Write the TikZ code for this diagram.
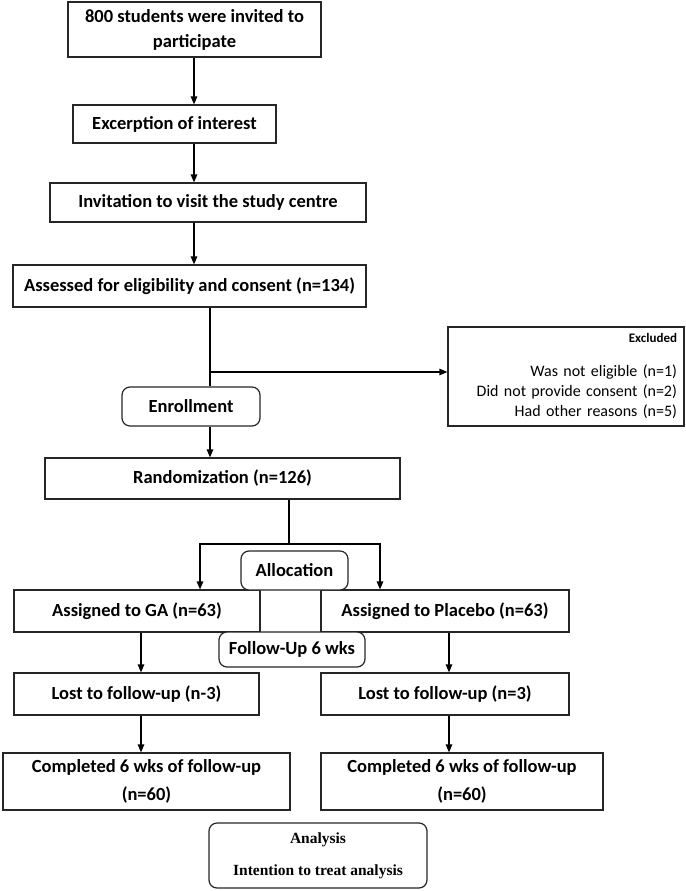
\documentclass[tikz,border=0pt]{standalone}
\usepackage{fontspec}
\setmainfont{Carlito}
\newfontfamily\timesf{Liberation Serif}
\usetikzlibrary{arrows.meta}
\begin{document}
\begin{tikzpicture}[x=1pt,y=-1pt,
  box/.style={draw=black!85, line width=1.2pt, fill=white, inner sep=0pt, align=center,
    font=\fontsize{18.5}{25}\selectfont\bfseries},
  rbox/.style={box, rounded corners=8pt},
  arr/.style={-{Triangle[length=8pt,width=6.5pt]}, line width=1.2pt},
  ln/.style={line width=1.2pt}]
\useasboundingbox (0,0) rectangle (685,891);
% helper coordinates
\coordinate (xa) at (194,0);
\coordinate (sp) at (210,372);
\coordinate (br) at (289,544);
\coordinate (xl) at (200,0);
\coordinate (xr) at (380,0);
\coordinate (xg) at (141,0);
\coordinate (xp) at (449,0);
% boxes
\node[box, minimum width=253pt, minimum height=55pt] (b1) at (194.5,29.5) {800 students were invited to\\participate};
\node[box, minimum width=203pt, minimum height=38pt] (b2) at (174.5,124) {Excerption of interest};
\node[box, minimum width=316pt, minimum height=39pt] (b3) at (208,202.5) {Invitation to visit the study centre};
\node[box, minimum width=353pt, minimum height=42pt] (b4) at (189.5,286) {Assessed for eligibility and consent (n=134)};
\node[box, minimum width=236pt, minimum height=99pt, text width=222pt, align=right, inner xsep=7pt,
  font=\fontsize{16}{20}\selectfont] (excl) at (566,376.5)
  {{\fontsize{13}{16}\selectfont\bfseries Excluded}\\[14pt]Was not eligible (n=1)\\Did not provide consent (n=2)\\Had other reasons (n=5)};
\node[rbox, minimum width=138pt, minimum height=39pt] (enr) at (191,406.5) {Enrollment};
\node[box, minimum width=355pt, minimum height=41pt] (rand) at (222.5,478.5) {Randomization (n=126)};
\node[box, minimum width=246pt, minimum height=42pt] (ga) at (137,611) {Assigned to GA (n=63)};
\node[box, minimum width=248pt, minimum height=42pt] (pl) at (445,611) {Assigned to Placebo (n=63)};
\draw[ln, draw=black!85] (ga.north east) rectangle (pl.south west);
\node[rbox, minimum width=107pt, minimum height=39pt] (alloc) at (294.5,570.5) {Allocation};
\node[rbox, minimum width=146pt, minimum height=35pt] (fu) at (292,649.5) {Follow-Up 6 wks};
\node[box, minimum width=245pt, minimum height=42pt] (lga) at (136.5,694) {Lost to follow-up (n-3)};
\node[box, minimum width=248pt, minimum height=42pt] (lpl) at (445,694) {Lost to follow-up (n=3)};
\node[box, minimum width=287pt, minimum height=57pt, font=\fontsize{18.5}{28}\selectfont\bfseries] (cga) at (146.5,781.5) {Completed 6 wks of follow-up\\(n=60)};
\node[box, minimum width=282pt, minimum height=57pt, font=\fontsize{18.5}{28}\selectfont\bfseries] (cpl) at (462,781.5) {Completed 6 wks of follow-up\\(n=60)};
\node[rbox, minimum width=218pt, minimum height=65pt, font=\timesf\fontsize{15.5}{32}\selectfont\bfseries] (an) at (318,855.5) {Analysis\\Intention to treat analysis};
% connectors
\draw[arr] (b1.south -| xa) -- (b2.north -| xa);
\draw[arr] (b2.south -| xa) -- (b3.north -| xa);
\draw[arr] (b3.south -| xa) -- (b4.north -| xa);
\draw[ln] (b4.south -| sp) -- (enr.north -| sp);
\draw[arr] (sp) -- (excl.west |- sp);
\draw[arr] (enr.south -| sp) -- (rand.north -| sp);
\draw[ln] (rand.south -| br) -- (br);
\draw[arr] (br) -| (ga.north -| xl);
\draw[arr] (br) -| (pl.north -| xr);
\draw[arr] (ga.south -| xg) -- (lga.north -| xg);
\draw[arr] (lga.south -| xg) -- (cga.north -| xg);
\draw[arr] (pl.south -| xp) -- (lpl.north -| xp);
\draw[arr] (lpl.south -| xp) -- (cpl.north -| xp);
\end{tikzpicture}
\end{document}
